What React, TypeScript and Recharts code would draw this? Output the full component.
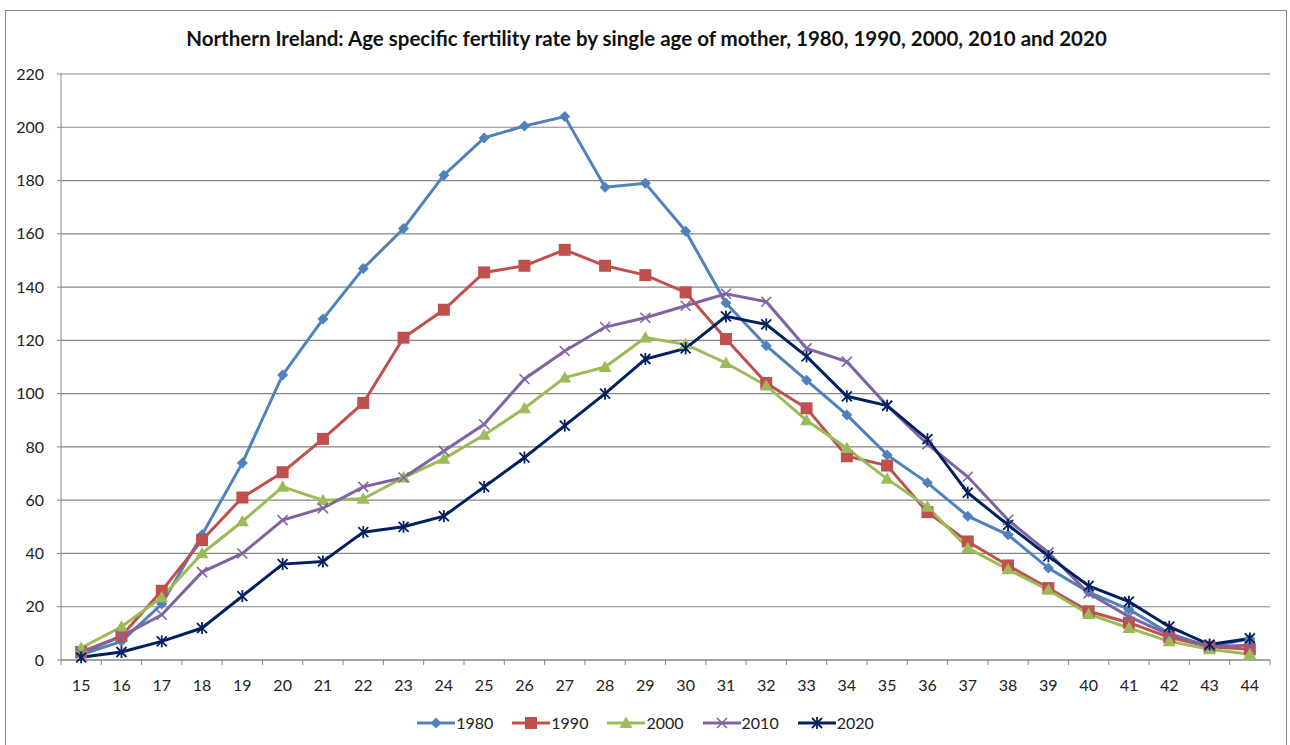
import React from 'react';
import { CartesianGrid, Legend, Line, LineChart, XAxis, YAxis } from 'recharts';

const ages = [15, 16, 17, 18, 19, 20, 21, 22, 23, 24, 25, 26, 27, 28, 29, 30, 31, 32, 33, 34, 35, 36, 37, 38, 39, 40, 41, 42, 43, 44];

const rate1980 = [2, 7, 21, 47, 74, 107, 128, 147, 162, 182, 196, 200.5, 204, 177.5, 179, 161, 134, 118, 105, 92, 77, 66.5, 54, 47, 34.5, 25.5, 19, 10, 5, 8];
const rate1990 = [3, 9, 26, 45, 61, 70.5, 83, 96.5, 121, 131.5, 145.5, 148, 154, 148, 144.5, 138, 120.5, 104, 94.5, 76.5, 73, 55.5, 44.5, 35.5, 27, 18.3, 14, 8.5, 5, 4];
const rate2000 = [4.5, 12.5, 23.5, 40, 52, 65, 60, 60.5, 68.5, 75.5, 84.5, 94.5, 106, 110, 121, 118.5, 111.5, 103, 90, 79.5, 68, 57.5, 42, 34, 26.3, 17.2, 12, 7, 4, 2.2];
const rate2010 = [2.5, 9, 17, 33, 40, 52.5, 57, 65, 68.5, 78.5, 88.5, 105.5, 116, 125, 128.5, 133, 137.5, 134.5, 117, 112, 95.5, 81, 68.8, 52.6, 40.3, 25, 16.3, 9.5, 5, 5.5];
const rate2020 = [1, 3, 7, 12, 24, 36, 37, 48, 50, 54, 65, 76, 88, 100, 113, 117, 129, 126, 114, 99, 95.5, 82.9, 62.8, 50.7, 39, 27.8, 21.9, 12.5, 5.8, 8.1];

const yTicks = [0, 20, 40, 60, 80, 100, 120, 140, 160, 180, 200, 220];

const data = ages.map((age, i) => ({
  age: String(age),
  y1980: rate1980[i],
  y1990: rate1990[i],
  y2000: rate2000[i],
  y2010: rate2010[i],
  y2020: rate2020[i],
}));

const FONT = 'Lato, "Open Sans", sans-serif';
const GRID = '#868686';

const CHART_W = 1290;
const CHART_H = 745;
const PLOT_LEFT = 61;
const PLOT_RIGHT = 1270;
const BAND = (PLOT_RIGHT - PLOT_LEFT) / ages.length;

type MarkerKind = 'diamond' | 'square' | 'triangle' | 'cross' | 'star';

function Marker({ kind, cx, cy, color }: { kind: MarkerKind; cx: number; cy: number; color: string }) {
  if (kind === 'diamond') {
    const r = 5.5;
    return <polygon points={`${cx},${cy - r} ${cx + r},${cy} ${cx},${cy + r} ${cx - r},${cy}`} fill={color} />;
  }
  if (kind === 'square') {
    const r = 6;
    return <rect x={cx - r} y={cy - r} width={r * 2} height={r * 2} fill={color} />;
  }
  if (kind === 'triangle') {
    const r = 6.5;
    return <polygon points={`${cx},${cy - r} ${cx + r},${cy + r * 0.75} ${cx - r},${cy + r * 0.75}`} fill={color} />;
  }
  if (kind === 'cross') {
    const r = 5;
    return (
      <g stroke={color} strokeWidth={1.6}>
        <line x1={cx - r} y1={cy - r} x2={cx + r} y2={cy + r} />
        <line x1={cx - r} y1={cy + r} x2={cx + r} y2={cy - r} />
      </g>
    );
  }
  const r = 5;
  return (
    <g stroke={color} strokeWidth={1.8}>
      <line x1={cx - r} y1={cy - r} x2={cx + r} y2={cy + r} />
      <line x1={cx - r} y1={cy + r} x2={cx + r} y2={cy - r} />
      <line x1={cx} y1={cy - r - 1} x2={cx} y2={cy + r + 1} />
    </g>
  );
}

const series: { key: string; name: string; color: string; marker: MarkerKind }[] = [
  { key: 'y1980', name: '1980', color: '#4F81BD', marker: 'diamond' },
  { key: 'y1990', name: '1990', color: '#C0504D', marker: 'square' },
  { key: 'y2000', name: '2000', color: '#9BBB59', marker: 'triangle' },
  { key: 'y2010', name: '2010', color: '#8064A2', marker: 'cross' },
  { key: 'y2020', name: '2020', color: '#002060', marker: 'star' },
];

function makeDot(kind: MarkerKind, color: string) {
  return (props: any) => {
    const { cx, cy, index } = props;
    if (cx == null || cy == null) return <g key={`d-${index}`} />;
    return (
      <g key={`d-${kind}-${index}`}>
        <Marker kind={kind} cx={cx} cy={cy} color={color} />
      </g>
    );
  };
}

// category ticks sit between the labels, like the spreadsheet original
function AgeTick(props: any) {
  const { x, payload, index } = props;
  const left = x - BAND / 2;
  const isLast = index === ages.length - 1;
  return (
    <g>
      <line x1={left} y1={660} x2={left} y2={665} stroke={GRID} strokeWidth={1} />
      {isLast && <line x1={x + BAND / 2} y1={660} x2={x + BAND / 2} y2={665} stroke={GRID} strokeWidth={1} />}
      <text x={x} y={691} textAnchor="middle" fontFamily={FONT} fontSize={16} fill="#222">
        {payload.value}
      </text>
    </g>
  );
}

function LegendContent() {
  return (
    <div style={{ display: 'flex', justifyContent: 'center', gap: 18, fontFamily: FONT, fontSize: 16, color: '#222' }}>
      {series.map(s => (
        <div key={s.key} style={{ display: 'flex', alignItems: 'center' }}>
          <svg width={40} height={16}>
            <line x1={1} y1={8} x2={39} y2={8} stroke={s.color} strokeWidth={3} />
            <Marker kind={s.marker} cx={20} cy={8} color={s.color} />
          </svg>
          <span>{s.name}</span>
        </div>
      ))}
    </div>
  );
}

export default function App() {
  return (
    <div style={{ position: 'absolute', left: 0, top: 0, width: CHART_W, height: CHART_H, background: '#fff', overflow: 'hidden' }}>
      <div style={{ position: 'absolute', left: 5, top: 10, width: 1282, height: 760, border: '1px solid #8a8a8a', boxSizing: 'border-box' }} />
      <div
        style={{
          position: 'absolute',
          left: 5,
          top: 26,
          width: 1283,
          textAlign: 'center',
          fontFamily: FONT,
          fontWeight: 700,
          fontSize: 20.5,
          color: '#111',
        }}
      >
        Northern Ireland: Age specific fertility rate by single age of mother, 1980, 1990, 2000, 2010 and 2020
      </div>
      <LineChart width={CHART_W} height={CHART_H} data={data} margin={{ top: 74, right: CHART_W - PLOT_RIGHT, left: 0, bottom: 21 }}>
        <CartesianGrid vertical={false} stroke={GRID} strokeWidth={1.2} />
        <XAxis
          dataKey="age"
          interval={0}
          height={40}
          padding={{ left: BAND / 2, right: BAND / 2 }}
          axisLine={{ stroke: GRID }}
          tickLine={false}
          tick={<AgeTick />}
        />
        <YAxis
          width={PLOT_LEFT}
          domain={[0, 220]}
          ticks={yTicks}
          interval={0}
          axisLine={{ stroke: GRID }}
          tickLine={{ stroke: GRID }}
          tickSize={4}
          tickMargin={13}
          tick={{ fontFamily: FONT, fontSize: 16, fill: '#222' }}
        />
        <Legend
          verticalAlign="bottom"
          height={24}
          content={<LegendContent />}
          wrapperStyle={{ left: 0, width: CHART_W, bottom: 8 }}
        />
        {series.map(s => (
          <Line
            key={s.key}
            type="linear"
            dataKey={s.key}
            name={s.name}
            stroke={s.color}
            strokeWidth={3}
            dot={makeDot(s.marker, s.color)}
            activeDot={false}
            isAnimationActive={false}
          />
        ))}
      </LineChart>
    </div>
  );
}
